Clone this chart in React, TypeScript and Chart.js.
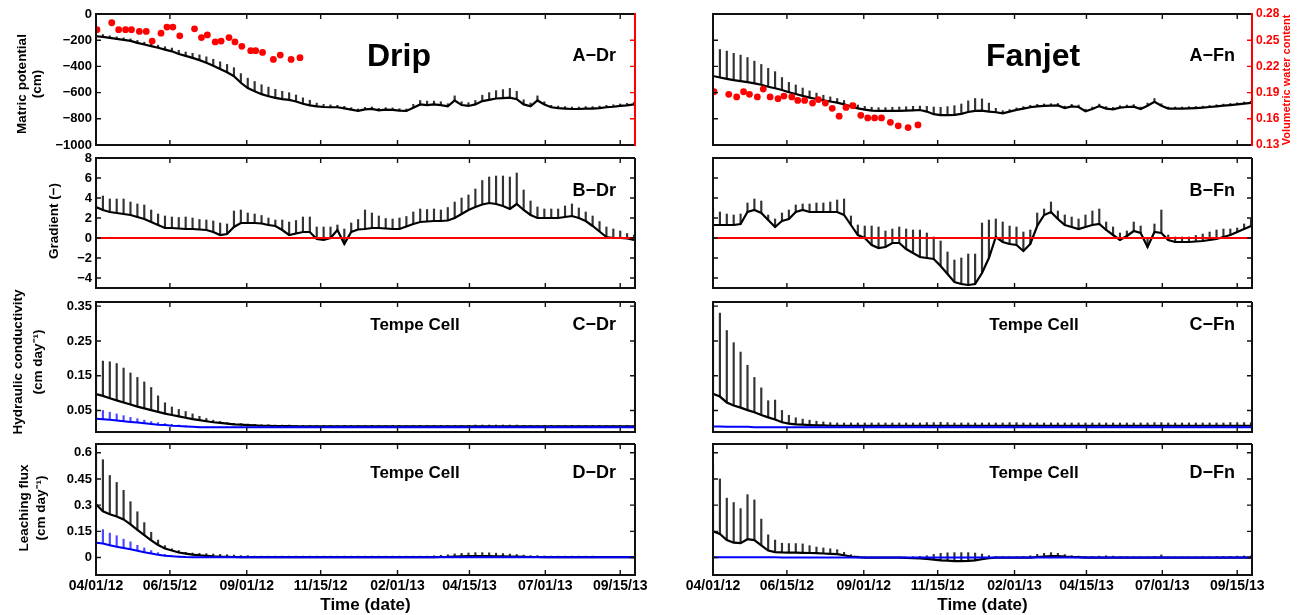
import React, { useEffect, useRef } from 'react';
import { Chart, registerables } from 'chart.js';

Chart.register(...registerables);

// ---------------- data ----------------
// sampling days (days since 04/01/12)
const days = [
  0, 7, 14, 21, 28, 35, 42, 49, 56, 63,
  70, 77, 84, 91, 98, 105, 112, 119, 126, 133,
  140, 147, 154, 161, 168, 175, 182, 189, 196, 203,
  210, 217, 224, 231, 238, 245, 252, 259, 266, 273,
  280, 287, 294, 301, 308, 315, 322, 329, 336, 343,
  350, 357, 364, 371, 378, 385, 392, 399, 406, 413,
  420, 427, 434, 441, 448, 455, 462, 469, 476, 483,
  490, 497, 504, 511, 518, 525, 532, 539, 546,
];

const dateTickDays = [0, 75, 153, 228, 306, 379, 456, 532];
const dateTickLabels = ['04/01/12', '06/15/12', '09/01/12', '11/15/12', '02/01/13', '04/15/13', '07/01/13', '09/15/13'];

const matricTicks = [-1000, -800, -600, -400, -200, 0];
const matricTickLabels = ['\u22121000', '\u2212800', '\u2212600', '\u2212400', '\u2212200', '0'];
const vwcTicks = [0.13, 0.16, 0.19, 0.22, 0.25, 0.28];
const vwcTickLabels = ['0.13', '0.16', '0.19', '0.22', '0.25', '0.28'];
const gradTicks = [-4, -2, 0, 2, 4, 6, 8];
const gradTickLabels = ['\u22124', '\u22122', '0', '2', '4', '6', '8'];
const condTicks = [0.05, 0.15, 0.25, 0.35];
const condTickLabels = ['0.05', '0.15', '0.25', '0.35'];
const fluxTicks = [0, 0.15, 0.3, 0.45, 0.6];
const fluxTickLabels = ['0', '0.15', '0.3', '0.45', '0.6'];

// Panel A: matric potential (cm), mean and upper error
const aDrMean = [
  -170, -175, -182, -190, -197, -205, -220, -233, -245, -258,
  -272, -285, -305, -320, -335, -352, -372, -395, -420, -445,
  -475, -525, -565, -590, -612, -628, -640, -650, -656, -668,
  -685, -698, -705, -710, -712, -712, -720, -730, -740, -728,
  -725, -735, -730, -732, -738, -740, -715, -690, -695, -690,
  -695, -705, -660, -695, -702, -690, -665, -655, -645, -642,
  -638, -650, -690, -705, -660, -690, -712, -718, -722, -725,
  -725, -722, -722, -718, -712, -708, -702, -697, -690,
];
const aDrErr = [
  20, 18, 15, 15, 15, 15, 18, 18, 20, 20,
  22, 25, 28, 30, 35, 40, 45, 50, 55, 60,
  65, 70, 75, 75, 72, 70, 65, 60, 55, 50,
  45, 40, 25, 20, 18, 15, 15, 15, 15, 15,
  15, 15, 15, 15, 15, 15, 25, 30, 30, 25,
  25, 20, 35, 25, 25, 30, 45, 55, 60, 65,
  70, 60, 35, 25, 35, 20, 15, 15, 15, 15,
  15, 15, 15, 15, 15, 15, 15, 15, 15,
];
const aFnMean = [
  -473, -485, -495, -505, -512, -520, -530, -540, -555, -567,
  -580, -597, -611, -625, -638, -649, -660, -668, -677, -690,
  -705, -720, -730, -737, -740, -740, -740, -740, -738, -735,
  -733, -745, -765, -772, -772, -770, -762, -748, -740, -738,
  -745, -750, -758, -745, -732, -722, -712, -705, -702, -700,
  -698, -718, -705, -710, -742, -725, -703, -722, -728, -715,
  -710, -707, -725, -700, -670, -700, -722, -722, -722, -720,
  -718, -715, -710, -705, -700, -695, -690, -684, -678,
];
const aFnErr = [
  216, 214, 212, 205, 198, 188, 170, 155, 140, 127,
  95, 75, 69, 60, 51, 45, 40, 35, 32, 30,
  25, 25, 25, 25, 25, 25, 28, 30, 30, 30,
  30, 40, 55, 60, 65, 70, 75, 85, 95, 90,
  65, 30, 20, 15, 15, 15, 15, 15, 15, 15,
  15, 15, 15, 15, 15, 15, 15, 15, 15, 15,
  15, 15, 15, 20, 25, 15, 12, 12, 12, 12,
  12, 12, 12, 12, 12, 12, 12, 12, 12,
];

// volumetric water content (red dots)
const drVwcDays = [1, 16, 23, 30, 36, 44, 51, 57, 66, 72, 78, 85, 100, 107, 113, 121, 127, 135, 141, 148, 157, 162, 169, 180, 187, 198, 207];
const drVwc = [0.262, 0.270, 0.262, 0.262, 0.262, 0.260, 0.260, 0.249, 0.258, 0.265, 0.265, 0.255, 0.263, 0.253, 0.256, 0.248, 0.249, 0.253, 0.248, 0.243, 0.238, 0.238, 0.236, 0.228, 0.233, 0.228, 0.230];
const fnVwcDays = [1, 16, 24, 31, 37, 45, 51, 58, 66, 72, 80, 86, 93, 101, 107, 114, 121, 128, 135, 142, 150, 157, 164, 171, 180, 188, 198, 208];
const fnVwc = [0.191, 0.188, 0.185, 0.191, 0.188, 0.185, 0.194, 0.185, 0.183, 0.186, 0.185, 0.181, 0.181, 0.178, 0.182, 0.178, 0.172, 0.163, 0.173, 0.175, 0.164, 0.161, 0.161, 0.161, 0.156, 0.152, 0.150, 0.153];

// Panel B: gradient
const bDrMean = [
  3.1, 2.8, 2.6, 2.5, 2.4, 2.3, 2.1, 1.9, 1.6, 1.3,
  1.0, 1.0, 0.95, 0.9, 0.9, 0.85, 0.8, 0.6, 0.3, 0.4,
  1.1, 1.5, 1.5, 1.5, 1.45, 1.3, 1.2, 0.8, 0.3, 0.45,
  0.6, 0.6, -0.1, -0.2, 0.0, 0.8, -0.6, 0.6, 0.85, 0.9,
  1.0, 1.0, 0.95, 0.9, 0.9, 1.15, 1.4, 1.6, 1.65, 1.7,
  1.7, 1.75, 2.0, 2.4, 2.8, 3.1, 3.35, 3.5, 3.4, 3.2,
  2.9, 3.4, 2.8, 2.3, 2.0, 2.0, 2.0, 2.0, 2.1, 2.2,
  2.0, 1.7, 1.2, 0.65, 0.1, 0.0, 0.0, -0.05, -0.2,
];
const bDrErr = [
  1.6, 1.4, 1.3, 1.4, 1.5, 1.3, 1.3, 1.4, 1.2, 1.1,
  1.2, 1.1, 1.1, 1.2, 1.1, 1.0, 1.0, 1.1, 1.2, 1.0,
  1.6, 1.3, 1.0, 0.9, 0.8, 0.7, 0.6, 1.0, 1.3, 1.3,
  1.5, 1.5, 1.2, 1.3, 1.1, 0.5, 1.5, 0.9, 1.0, 1.9,
  1.5, 1.2, 1.0, 1.0, 1.1, 1.0, 1.2, 1.3, 1.2, 1.2,
  1.1, 1.3, 1.6, 1.6, 1.5, 1.8, 2.4, 2.6, 2.8, 3.0,
  3.2, 3.1, 2.0, 1.4, 1.1, 0.9, 0.9, 0.9, 1.1, 1.2,
  1.0, 0.9, 1.0, 1.0, 1.0, 0.9, 0.7, 0.5, 0.5,
];
const bFnMean = [
  1.3, 1.3, 1.3, 1.3, 1.4, 2.6, 2.8, 2.5, 1.8, 1.1,
  1.7, 1.9, 2.6, 2.8, 2.6, 2.6, 2.6, 2.6, 2.6, 2.3,
  1.3, 0.3, 0.0, -0.7, -1.0, -0.9, -0.5, -0.5, -1.1, -1.5,
  -1.9, -2.0, -2.1, -2.8, -3.6, -4.4, -4.6, -4.7, -4.6, -3.5,
  -2.0, 0.1, -0.4, -0.6, -0.7, -1.3, -0.6, 1.2, 2.3, 2.6,
  1.9, 1.3, 1.1, 0.9, 1.1, 1.3, 1.4, 0.8, 0.3, -0.2,
  0.2, 0.7, 0.5, -0.9, 0.6, 0.5, -0.2, -0.4, -0.4, -0.4,
  -0.35, -0.3, -0.2, -0.1, 0.1, 0.3, 0.6, 0.9, 1.2,
];
const bFnErr = [
  1.8, 1.3, 1.1, 1.0, 1.0, 0.9, 1.1, 1.2, 0.5, 0.8,
  0.8, 0.9, 0.7, 0.6, 0.8, 0.9, 0.9, 1.0, 1.2, 1.6,
  0.9, 1.0, 1.2, 1.9, 2.1, 1.6, 1.4, 1.6, 2.0, 2.3,
  2.7, 2.5, 2.2, 2.5, 2.2, 2.2, 2.6, 3.1, 3.0, 5.0,
  3.8, 1.8, 2.0, 1.8, 1.8, 1.9, 1.4, 1.3, 0.6, 1.0,
  0.8, 1.0, 1.0, 1.0, 1.2, 1.4, 1.5, 0.8, 0.8, 0.7,
  0.5, 0.9, 0.7, 0.9, 0.8, 2.3, 0.5, 0.5, 0.5, 0.5,
  0.6, 0.7, 0.8, 0.9, 0.8, 0.6, 0.4, 0.5, 0.7,
];
const zeroLineDays = [0, 547];
const zeroLineVals = [0, 0];

// Panel C: hydraulic conductivity (black = mean, blue = Tempe Cell)
const cDrMean = [
  0.097, 0.092, 0.085, 0.079, 0.073, 0.067, 0.061, 0.056, 0.051, 0.046,
  0.041, 0.037, 0.033, 0.029, 0.025, 0.022, 0.019, 0.016, 0.014, 0.012,
  0.010, 0.009, 0.008, 0.007, 0.006, 0.006, 0.005, 0.005, 0.005, 0.004,
  0.004, 0.004, 0.004, 0.004, 0.004, 0.004, 0.004, 0.004, 0.004, 0.004,
  0.004, 0.004, 0.004, 0.004, 0.004, 0.004, 0.004, 0.004, 0.004, 0.004,
  0.004, 0.004, 0.004, 0.004, 0.004, 0.004, 0.004, 0.004, 0.004, 0.004,
  0.004, 0.004, 0.004, 0.004, 0.004, 0.004, 0.004, 0.004, 0.004, 0.004,
  0.004, 0.004, 0.004, 0.004, 0.004, 0.004, 0.004, 0.004, 0.004,
];
const cDrErr = [
  0.098, 0.100, 0.105, 0.106, 0.099, 0.091, 0.084, 0.076, 0.065, 0.046,
  0.031, 0.023, 0.020, 0.018, 0.015, 0.011, 0.008, 0.006, 0.004, 0.003,
  0.003, 0.003, 0.003, 0.003, 0.003, 0.003, 0.003, 0.003, 0.003, 0.003,
  0.003, 0.003, 0.003, 0.003, 0.003, 0.003, 0.003, 0.003, 0.003, 0.003,
  0.003, 0.003, 0.003, 0.003, 0.003, 0.003, 0.003, 0.003, 0.003, 0.003,
  0.003, 0.003, 0.003, 0.003, 0.003, 0.004, 0.004, 0.004, 0.004, 0.004,
  0.004, 0.004, 0.003, 0.003, 0.003, 0.003, 0.003, 0.003, 0.003, 0.003,
  0.003, 0.003, 0.003, 0.003, 0.003, 0.003, 0.003, 0.003, 0.003,
];
const cDrTempe = [
  0.026, 0.025, 0.023, 0.021, 0.019, 0.017, 0.015, 0.013, 0.011, 0.009,
  0.008, 0.006, 0.005, 0.004, 0.003, 0.002, 0.002, 0.002, 0.002, 0.002,
  0.002, 0.002, 0.002, 0.002, 0.002, 0.002, 0.002, 0.002, 0.002, 0.002,
  0.002, 0.002, 0.002, 0.002, 0.002, 0.002, 0.002, 0.002, 0.002, 0.002,
  0.002, 0.002, 0.002, 0.002, 0.002, 0.002, 0.002, 0.002, 0.002, 0.002,
  0.002, 0.002, 0.002, 0.002, 0.002, 0.002, 0.002, 0.002, 0.002, 0.002,
  0.002, 0.002, 0.002, 0.002, 0.002, 0.002, 0.002, 0.002, 0.002, 0.002,
  0.002, 0.002, 0.002, 0.002, 0.002, 0.002, 0.002, 0.002, 0.002,
];
const cDrTempeErr = [
  0.029, 0.025, 0.022, 0.019, 0.016, 0.013, 0.011, 0.009, 0.007, 0.006,
  0.004, 0.004, 0.003, 0.002, 0.001, 0.001, 0.001, 0.001, 0.001, 0.001,
  0.001, 0.001, 0.001, 0.001, 0.001, 0.001, 0.001, 0.001, 0.001, 0.001,
  0.001, 0.001, 0.001, 0.001, 0.001, 0.001, 0.001, 0.001, 0.001, 0.001,
  0.001, 0.001, 0.001, 0.001, 0.001, 0.001, 0.001, 0.001, 0.001, 0.001,
  0.001, 0.001, 0.001, 0.001, 0.001, 0.001, 0.001, 0.001, 0.001, 0.001,
  0.001, 0.001, 0.001, 0.001, 0.001, 0.001, 0.001, 0.001, 0.001, 0.001,
  0.001, 0.001, 0.001, 0.001, 0.001, 0.001, 0.001, 0.001, 0.001,
];
const cFnMean = [
  0.098, 0.090, 0.073, 0.064, 0.058, 0.051, 0.045, 0.037, 0.030, 0.024,
  0.016, 0.012, 0.010, 0.009, 0.008, 0.007, 0.007, 0.006, 0.006, 0.006,
  0.006, 0.006, 0.006, 0.006, 0.006, 0.006, 0.006, 0.006, 0.006, 0.006,
  0.006, 0.006, 0.006, 0.006, 0.006, 0.006, 0.006, 0.006, 0.006, 0.006,
  0.006, 0.006, 0.006, 0.006, 0.006, 0.006, 0.006, 0.006, 0.006, 0.006,
  0.006, 0.006, 0.006, 0.006, 0.006, 0.006, 0.006, 0.006, 0.006, 0.006,
  0.006, 0.006, 0.006, 0.006, 0.006, 0.006, 0.006, 0.006, 0.006, 0.006,
  0.006, 0.006, 0.006, 0.006, 0.006, 0.006, 0.006, 0.006, 0.006,
];
const cFnErr = [
  0.262, 0.240, 0.207, 0.181, 0.160, 0.129, 0.100, 0.078, 0.048, 0.056,
  0.034, 0.024, 0.019, 0.016, 0.014, 0.012, 0.010, 0.009, 0.008, 0.008,
  0.008, 0.008, 0.008, 0.008, 0.008, 0.008, 0.008, 0.008, 0.008, 0.008,
  0.008, 0.009, 0.009, 0.010, 0.009, 0.008, 0.008, 0.008, 0.008, 0.008,
  0.008, 0.008, 0.008, 0.009, 0.009, 0.008, 0.008, 0.008, 0.008, 0.008,
  0.008, 0.008, 0.008, 0.008, 0.008, 0.008, 0.008, 0.008, 0.008, 0.008,
  0.008, 0.008, 0.008, 0.008, 0.009, 0.009, 0.008, 0.008, 0.008, 0.008,
  0.008, 0.008, 0.008, 0.008, 0.008, 0.009, 0.009, 0.009, 0.009,
];
const cFnTempe = [
  0.004, 0.004, 0.003, 0.003, 0.003, 0.003, 0.002, 0.002, 0.002, 0.002,
  0.002, 0.002, 0.002, 0.002, 0.002, 0.002, 0.002, 0.002, 0.002, 0.002,
  0.002, 0.002, 0.002, 0.002, 0.002, 0.002, 0.002, 0.002, 0.002, 0.002,
  0.002, 0.002, 0.002, 0.002, 0.002, 0.002, 0.002, 0.002, 0.002, 0.002,
  0.002, 0.002, 0.002, 0.002, 0.002, 0.002, 0.002, 0.002, 0.002, 0.002,
  0.002, 0.002, 0.002, 0.002, 0.002, 0.002, 0.002, 0.002, 0.002, 0.002,
  0.002, 0.002, 0.002, 0.002, 0.002, 0.002, 0.002, 0.002, 0.002, 0.002,
  0.002, 0.002, 0.002, 0.002, 0.002, 0.002, 0.002, 0.002, 0.002,
];

// Panel D: leaching flux
const dDrMean = [
  0.305, 0.265, 0.248, 0.235, 0.218, 0.190, 0.158, 0.128, 0.098, 0.072,
  0.052, 0.040, 0.029, 0.022, 0.017, 0.013, 0.010, 0.007, 0.005, 0.004,
  0.003, 0.002, 0.002, 0.002, 0.002, 0.002, 0.002, 0.002, 0.002, 0.002,
  0.002, 0.002, 0.002, 0.002, 0.002, 0.002, 0.002, 0.002, 0.002, 0.002,
  0.002, 0.002, 0.002, 0.002, 0.002, 0.002, 0.002, 0.002, 0.002, 0.002,
  0.003, 0.004, 0.006, 0.007, 0.008, 0.008, 0.008, 0.008, 0.007, 0.007,
  0.006, 0.005, 0.004, 0.003, 0.003, 0.002, 0.002, 0.002, 0.002, 0.002,
  0.002, 0.002, 0.002, 0.002, 0.002, 0.002, 0.002, 0.002, 0.002,
];
const dDrErr = [
  0.285, 0.295, 0.222, 0.195, 0.167, 0.130, 0.104, 0.072, 0.047, 0.028,
  0.016, 0.010, 0.011, 0.008, 0.009, 0.011, 0.012, 0.013, 0.013, 0.012,
  0.011, 0.009, 0.009, 0.006, 0.006, 0.006, 0.006, 0.006, 0.006, 0.006,
  0.006, 0.006, 0.006, 0.006, 0.006, 0.006, 0.006, 0.006, 0.006, 0.006,
  0.006, 0.006, 0.006, 0.006, 0.006, 0.006, 0.006, 0.006, 0.006, 0.008,
  0.010, 0.012, 0.015, 0.017, 0.018, 0.020, 0.020, 0.019, 0.018, 0.016,
  0.014, 0.012, 0.010, 0.008, 0.008, 0.007, 0.006, 0.006, 0.006, 0.006,
  0.006, 0.006, 0.006, 0.005, 0.005, 0.005, 0.005, 0.005, 0.005,
];
const dDrTempe = [
  0.085, 0.080, 0.070, 0.062, 0.055, 0.047, 0.039, 0.030, 0.023, 0.016,
  0.010, 0.007, 0.005, 0.003, 0.002, 0.001, 0.001, 0.001, 0.001, 0.001,
  0.001, 0.001, 0.001, 0.001, 0.001, 0.001, 0.001, 0.001, 0.001, 0.001,
  0.001, 0.001, 0.001, 0.001, 0.001, 0.001, 0.001, 0.001, 0.001, 0.001,
  0.001, 0.001, 0.001, 0.001, 0.001, 0.001, 0.001, 0.001, 0.001, 0.001,
  0.001, 0.001, 0.001, 0.001, 0.001, 0.001, 0.001, 0.001, 0.001, 0.001,
  0.001, 0.001, 0.001, 0.001, 0.001, 0.001, 0.001, 0.001, 0.001, 0.001,
  0.001, 0.001, 0.001, 0.001, 0.001, 0.001, 0.001, 0.001, 0.001,
];
const dDrTempeErr = [
  0.082, 0.080, 0.070, 0.063, 0.050, 0.043, 0.031, 0.025, 0.017, 0.012,
  0.008, 0.005, 0.003, 0.002, 0.001, 0.001, 0.001, 0.001, 0.001, 0.001,
  0.001, 0.001, 0.001, 0.001, 0.001, 0.001, 0.001, 0.001, 0.001, 0.001,
  0.001, 0.001, 0.001, 0.001, 0.001, 0.001, 0.001, 0.001, 0.001, 0.001,
  0.001, 0.001, 0.001, 0.001, 0.001, 0.001, 0.001, 0.001, 0.001, 0.001,
  0.001, 0.001, 0.001, 0.001, 0.001, 0.001, 0.001, 0.001, 0.001, 0.001,
  0.001, 0.001, 0.001, 0.001, 0.001, 0.001, 0.001, 0.001, 0.001, 0.001,
  0.001, 0.001, 0.001, 0.001, 0.001, 0.001, 0.001, 0.001, 0.001,
];
const dFnMean = [
  0.150, 0.135, 0.100, 0.085, 0.082, 0.105, 0.100, 0.070, 0.040, 0.031,
  0.029, 0.028, 0.028, 0.027, 0.026, 0.025, 0.023, 0.021, 0.019, 0.013,
  0.006, 0.002, 0.000, 0.000, 0.000, 0.000, 0.000, 0.000, -0.002, -0.003,
  -0.005, -0.008, -0.012, -0.016, -0.018, -0.020, -0.020, -0.019, -0.016, -0.010,
  -0.004, 0.000, 0.000, 0.000, 0.000, 0.000, 0.000, 0.003, 0.006, 0.008,
  0.008, 0.005, 0.003, 0.002, 0.000, 0.000, 0.000, 0.000, 0.000, 0.000,
  0.000, 0.000, 0.000, 0.000, 0.000, 0.000, 0.000, 0.000, 0.000, 0.000,
  0.000, 0.000, 0.000, 0.000, 0.000, 0.000, 0.000, 0.000, 0.000,
];
const dFnErr = [
  0.380, 0.315, 0.240, 0.230, 0.198, 0.255, 0.230, 0.150, 0.090, 0.069,
  0.053, 0.052, 0.052, 0.051, 0.042, 0.035, 0.032, 0.029, 0.026, 0.017,
  0.010, 0.006, 0.003, 0.002, 0.002, 0.002, 0.002, 0.003, 0.005, 0.008,
  0.012, 0.018, 0.030, 0.040, 0.045, 0.048, 0.048, 0.047, 0.042, 0.030,
  0.015, 0.006, 0.004, 0.004, 0.004, 0.006, 0.010, 0.015, 0.018, 0.020,
  0.016, 0.012, 0.008, 0.006, 0.006, 0.006, 0.008, 0.010, 0.008, 0.005,
  0.004, 0.004, 0.004, 0.004, 0.006, 0.015, 0.004, 0.003, 0.003, 0.003,
  0.003, 0.004, 0.004, 0.005, 0.006, 0.007, 0.008, 0.009, 0.010,
];
const dFnTempe = [
  0.001, 0.001, 0.001, 0.001, 0.001, 0.001, 0.001, 0.001, 0.001, 0.001,
  0.000, 0.000, 0.000, 0.000, 0.000, 0.000, 0.000, 0.000, 0.000, 0.000,
  0.000, 0.000, 0.000, 0.000, 0.000, 0.000, 0.000, 0.000, 0.000, 0.000,
  0.000, 0.000, 0.000, 0.000, 0.000, 0.000, 0.000, 0.000, 0.000, 0.000,
  0.000, 0.000, 0.000, 0.000, 0.000, 0.000, 0.000, 0.000, 0.000, 0.000,
  0.000, 0.000, 0.000, 0.000, 0.000, 0.000, 0.000, 0.000, 0.000, 0.000,
  0.000, 0.000, 0.000, 0.000, 0.000, 0.000, 0.000, 0.000, 0.000, 0.000,
  0.000, 0.000, 0.000, 0.000, 0.000, 0.000, 0.000, 0.000, 0.000,
];

// ---------------- styling / layout ----------------
const FONT = '"Liberation Sans", Arial, Helvetica, sans-serif';
const RED = '#ff0000';
const BLUE = '#0000ff';
const X_MAX = 547;
const PAD_L = 96;
const PAD_R = 50;
const PAD_T = 14;
const PAD_B = 40;

type Txt = {
  t: string; x: number; y: number; size: number;
  align?: CanvasTextAlign; base?: CanvasTextBaseline; rot?: boolean; color?: string;
};

type Panel = {
  key: string; left: number; top: number; width: number; height: number;
  yMin: number; yMax: number; yTicks: number[]; yTickLabels: string[]; yLabels: boolean;
  xLabels: boolean;
  mean: number[]; err: number[];
  blue?: number[]; blueErr?: number[];
  dotDays?: number[]; dotVals?: number[];
  y2Labels?: boolean; hasY2?: boolean;
  zero?: boolean;
  texts: Txt[];
};

const LX = 96;
const RX = 713;
const PW = 539;
const ROWS = [
  { top: 14, h: 131 },
  { top: 158, h: 130 },
  { top: 302, h: 130 },
  { top: 444, h: 131 },
];

const HC = 'Hydraulic conductivity';
const CMD = '(cm day\u207B\u00B9)';

const PANELS: Panel[] = [
  {
    key: 'A-Dr', left: LX, top: ROWS[0].top, width: PW, height: ROWS[0].h,
    yMin: -1000, yMax: 0, yTicks: matricTicks, yTickLabels: matricTickLabels, yLabels: true, xLabels: false,
    mean: aDrMean, err: aDrErr, dotDays: drVwcDays, dotVals: drVwc, hasY2: true, y2Labels: false,
    texts: [
      { t: 'Drip', x: 303, y: 51.5, size: 32, align: 'center' },
      { t: 'A\u2212Dr', x: 520, y: 46.5, size: 18, align: 'right' },
      { t: 'Matric potential', x: -73.5, y: 70, size: 13.5, rot: true },
      { t: '(cm)', x: -58.5, y: 70, size: 13.5, rot: true },
    ],
  },
  {
    key: 'A-Fn', left: RX, top: ROWS[0].top, width: PW, height: ROWS[0].h,
    yMin: -1000, yMax: 0, yTicks: matricTicks, yTickLabels: matricTickLabels, yLabels: false, xLabels: false,
    mean: aFnMean, err: aFnErr, dotDays: fnVwcDays, dotVals: fnVwc, hasY2: true, y2Labels: true,
    texts: [
      { t: 'Fanjet', x: 320, y: 51.5, size: 32, align: 'center' },
      { t: 'A\u2212Fn', x: 522, y: 46.5, size: 18, align: 'right' },
      { t: 'Volumetric water content', x: 574, y: 66, size: 11, rot: true, color: RED },
    ],
  },
  {
    key: 'B-Dr', left: LX, top: ROWS[1].top, width: PW, height: ROWS[1].h,
    yMin: -5, yMax: 8, yTicks: gradTicks, yTickLabels: gradTickLabels, yLabels: true, xLabels: false,
    mean: bDrMean, err: bDrErr, zero: true,
    texts: [
      { t: 'B\u2212Dr', x: 520, y: 37.5, size: 18, align: 'right' },
      { t: 'Gradient (\u2212)', x: -42, y: 63, size: 13.5, rot: true },
    ],
  },
  {
    key: 'B-Fn', left: RX, top: ROWS[1].top, width: PW, height: ROWS[1].h,
    yMin: -5, yMax: 8, yTicks: gradTicks, yTickLabels: gradTickLabels, yLabels: false, xLabels: false,
    mean: bFnMean, err: bFnErr, zero: true,
    texts: [
      { t: 'B\u2212Fn', x: 522, y: 37.5, size: 18, align: 'right' },
    ],
  },
  {
    key: 'C-Dr', left: LX, top: ROWS[2].top, width: PW, height: ROWS[2].h,
    yMin: -0.012, yMax: 0.362, yTicks: condTicks, yTickLabels: condTickLabels, yLabels: true, xLabels: false,
    mean: cDrMean, err: cDrErr, blue: cDrTempe, blueErr: cDrTempeErr,
    texts: [
      { t: 'Tempe Cell', x: 319, y: 28, size: 17, align: 'center' },
      { t: 'C\u2212Dr', x: 520, y: 28, size: 18, align: 'right' },
      { t: HC, x: -78, y: 60, size: 13.5, rot: true },
      { t: CMD, x: -58, y: 60, size: 13.5, rot: true },
    ],
  },
  {
    key: 'C-Fn', left: RX, top: ROWS[2].top, width: PW, height: ROWS[2].h,
    yMin: -0.012, yMax: 0.362, yTicks: condTicks, yTickLabels: condTickLabels, yLabels: false, xLabels: false,
    mean: cFnMean, err: cFnErr, blue: cFnTempe,
    texts: [
      { t: 'Tempe Cell', x: 321, y: 28, size: 17, align: 'center' },
      { t: 'C\u2212Fn', x: 522, y: 28, size: 18, align: 'right' },
    ],
  },
  {
    key: 'D-Dr', left: LX, top: ROWS[3].top, width: PW, height: ROWS[3].h,
    yMin: -0.1, yMax: 0.65, yTicks: fluxTicks, yTickLabels: fluxTickLabels, yLabels: true, xLabels: true,
    mean: dDrMean, err: dDrErr, blue: dDrTempe, blueErr: dDrTempeErr,
    texts: [
      { t: 'Tempe Cell', x: 319, y: 33.5, size: 17, align: 'center' },
      { t: 'D\u2212Dr', x: 520, y: 33.5, size: 18, align: 'right' },
      { t: 'Leaching flux', x: -72, y: 64, size: 13.5, rot: true },
      { t: CMD, x: -55, y: 64, size: 13.5, rot: true },
      { t: 'Time (date)', x: 269.5, y: 161, size: 17, align: 'center', base: 'middle' },
    ],
  },
  {
    key: 'D-Fn', left: RX, top: ROWS[3].top, width: PW, height: ROWS[3].h,
    yMin: -0.1, yMax: 0.65, yTicks: fluxTicks, yTickLabels: fluxTickLabels, yLabels: false, xLabels: true,
    mean: dFnMean, err: dFnErr, blue: dFnTempe,
    texts: [
      { t: 'Tempe Cell', x: 321, y: 33.5, size: 17, align: 'center' },
      { t: 'D\u2212Fn', x: 522, y: 33.5, size: 18, align: 'right' },
      { t: 'Time (date)', x: 269.5, y: 161, size: 17, align: 'center', base: 'middle' },
    ],
  },
];

// frame, inward ticks and annotation text
const framePlugin = {
  id: 'frame',
  afterDatasetsDraw(chart: any, _args: any, opts: any) {
    const { ctx, chartArea } = chart;
    const { left, right, top, bottom } = chartArea;
    const xs = chart.scales.x;
    const ys = chart.scales.y;
    const y2 = chart.scales.y2;
    const TL = 5;
    ctx.save();
    ctx.lineWidth = 1.4;
    ctx.strokeStyle = '#111';
    ctx.beginPath();
    for (const t of xs.ticks) {
      const px = xs.getPixelForValue(t.value);
      ctx.moveTo(px, bottom); ctx.lineTo(px, bottom - TL);
      ctx.moveTo(px, top); ctx.lineTo(px, top + TL);
    }
    for (const t of ys.ticks) {
      const py = ys.getPixelForValue(t.value);
      ctx.moveTo(left, py); ctx.lineTo(left + TL, py);
      if (!y2) { ctx.moveTo(right, py); ctx.lineTo(right - TL, py); }
    }
    ctx.stroke();
    if (y2) {
      ctx.strokeStyle = RED;
      ctx.beginPath();
      for (const t of y2.ticks) {
        const py = y2.getPixelForValue(t.value);
        ctx.moveTo(right, py); ctx.lineTo(right - TL, py);
      }
      ctx.stroke();
    }
    ctx.lineWidth = 2;
    ctx.strokeStyle = '#111';
    ctx.beginPath();
    ctx.moveTo(right, top); ctx.lineTo(left, top); ctx.lineTo(left, bottom); ctx.lineTo(right, bottom);
    if (!y2) ctx.lineTo(right, top);
    ctx.stroke();
    if (y2) {
      ctx.strokeStyle = RED;
      ctx.beginPath();
      ctx.moveTo(right, top - 1); ctx.lineTo(right, bottom + 1);
      ctx.stroke();
    }
    for (const tx of (opts.texts || []) as Txt[]) {
      ctx.save();
      ctx.fillStyle = tx.color || '#000';
      ctx.font = `bold ${tx.size}px ${FONT}`;
      const px = left + tx.x;
      const py = top + tx.y;
      if (tx.rot) {
        ctx.translate(px, py);
        ctx.rotate(-Math.PI / 2);
        ctx.textAlign = 'center';
        ctx.textBaseline = 'middle';
        ctx.fillText(tx.t, 0, 0);
      } else {
        ctx.textAlign = tx.align || 'left';
        ctx.textBaseline = tx.base || 'alphabetic';
        ctx.fillText(tx.t, px, py);
      }
      ctx.restore();
    }
    ctx.restore();
  },
};

function buildChart(canvas: HTMLCanvasElement, p: Panel) {
  const pts = (ys: number[]) => days.map((d, i) => ({ x: d, y: ys[i] }));
  const bars = (m: number[], e: number[]) => days.map((d, i) => ({ x: d, y: [m[i], m[i] + e[i]] }));
  const datasets: any[] = [];
  if (p.zero) {
    datasets.push({
      type: 'line', data: zeroLineDays.map((d, i) => ({ x: d, y: zeroLineVals[i] })),
      borderColor: RED, borderWidth: 2.2, pointRadius: 0, order: 0,
    });
  }
  if (p.dotDays && p.dotVals) {
    const vals = p.dotVals;
    datasets.push({
      type: 'line', data: p.dotDays.map((d, i) => ({ x: d, y: vals[i] })), yAxisID: 'y2',
      showLine: false, pointRadius: 3.4, pointBackgroundColor: RED, pointBorderWidth: 0,
      borderColor: RED, order: 0,
    });
  }
  if (p.blue) {
    datasets.push({ type: 'line', data: pts(p.blue), borderColor: BLUE, borderWidth: 2, pointRadius: 0, order: 1 });
    if (p.blueErr) {
      datasets.push({ type: 'bar', data: bars(p.blue, p.blueErr), backgroundColor: '#4a4aff', barThickness: 1.5, grouped: false, order: 2 });
    }
  }
  datasets.push({ type: 'line', data: pts(p.mean), borderColor: '#000', borderWidth: 2.2, pointRadius: 0, order: 3 });
  datasets.push({ type: 'bar', data: bars(p.mean, p.err), backgroundColor: '#333333', barThickness: 1.5, grouped: false, order: 4 });

  const tickFont = { family: FONT, size: 13, weight: 'bold' as const };
  const scales: any = {
    x: {
      type: 'linear', min: 0, max: X_MAX, offset: false,
      afterBuildTicks: (s: any) => { s.ticks = dateTickDays.map((v) => ({ value: v })); },
      afterFit: (s: any) => { s.height = PAD_B; s.paddingLeft = 0; s.paddingRight = 0; },
      grid: { display: false, drawTicks: false }, border: { display: false },
      ticks: {
        display: p.xLabels, autoSkip: false, maxRotation: 0, padding: 3, color: '#000',
        font: { family: FONT, size: 14, weight: 'bold' },
        callback: (v: number) => dateTickLabels[dateTickDays.indexOf(v)],
      },
    },
    y: {
      type: 'linear', min: p.yMin, max: p.yMax,
      afterBuildTicks: (s: any) => { s.ticks = p.yTicks.map((v) => ({ value: v })); },
      afterFit: (s: any) => { s.width = PAD_L; s.paddingTop = 0; s.paddingBottom = 0; },
      grid: { display: false, drawTicks: false }, border: { display: false },
      ticks: {
        display: p.yLabels, autoSkip: false, padding: 4, color: '#000', font: tickFont,
        callback: (v: number) => p.yTickLabels[p.yTicks.indexOf(v)],
      },
    },
  };
  if (p.hasY2) {
    scales.y2 = {
      type: 'linear', position: 'right', min: 0.13, max: 0.28,
      afterBuildTicks: (s: any) => { s.ticks = vwcTicks.map((v) => ({ value: v })); },
      afterFit: (s: any) => { s.width = PAD_R; s.paddingTop = 0; s.paddingBottom = 0; },
      grid: { display: false, drawTicks: false }, border: { display: false },
      ticks: {
        display: !!p.y2Labels, autoSkip: false, padding: 4, color: RED,
        font: { family: FONT, size: 12, weight: 'bold' },
        callback: (v: number) => vwcTickLabels[vwcTicks.indexOf(v)],
      },
    };
  }

  return new Chart(canvas, {
    type: 'line',
    data: { datasets },
    options: {
      responsive: false,
      animation: false,
      devicePixelRatio: 1,
      events: [],
      layout: { padding: { left: 0, right: p.hasY2 ? 0 : PAD_R, top: PAD_T, bottom: 0 } },
      plugins: {
        legend: { display: false },
        tooltip: { enabled: false },
        frame: { texts: p.texts },
      } as any,
      scales,
    },
    plugins: [framePlugin],
  } as any);
}

export default function App() {
  const refs = useRef<(HTMLCanvasElement | null)[]>([]);
  useEffect(() => {
    const charts = PANELS.map((p, i) => buildChart(refs.current[i] as HTMLCanvasElement, p));
    return () => charts.forEach((c) => c.destroy());
  }, []);
  return (
    <div style={{ position: 'absolute', left: 0, top: 0, width: 1301, height: 615, background: '#fff', overflow: 'hidden' }}>
      {PANELS.map((p, i) => {
        const w = PAD_L + p.width + PAD_R;
        const h = PAD_T + p.height + PAD_B;
        return (
          <canvas
            key={p.key}
            ref={(el) => { refs.current[i] = el; }}
            width={w}
            height={h}
            style={{ position: 'absolute', left: p.left - PAD_L, top: p.top - PAD_T, width: w, height: h }}
          />
        );
      })}
    </div>
  );
}
